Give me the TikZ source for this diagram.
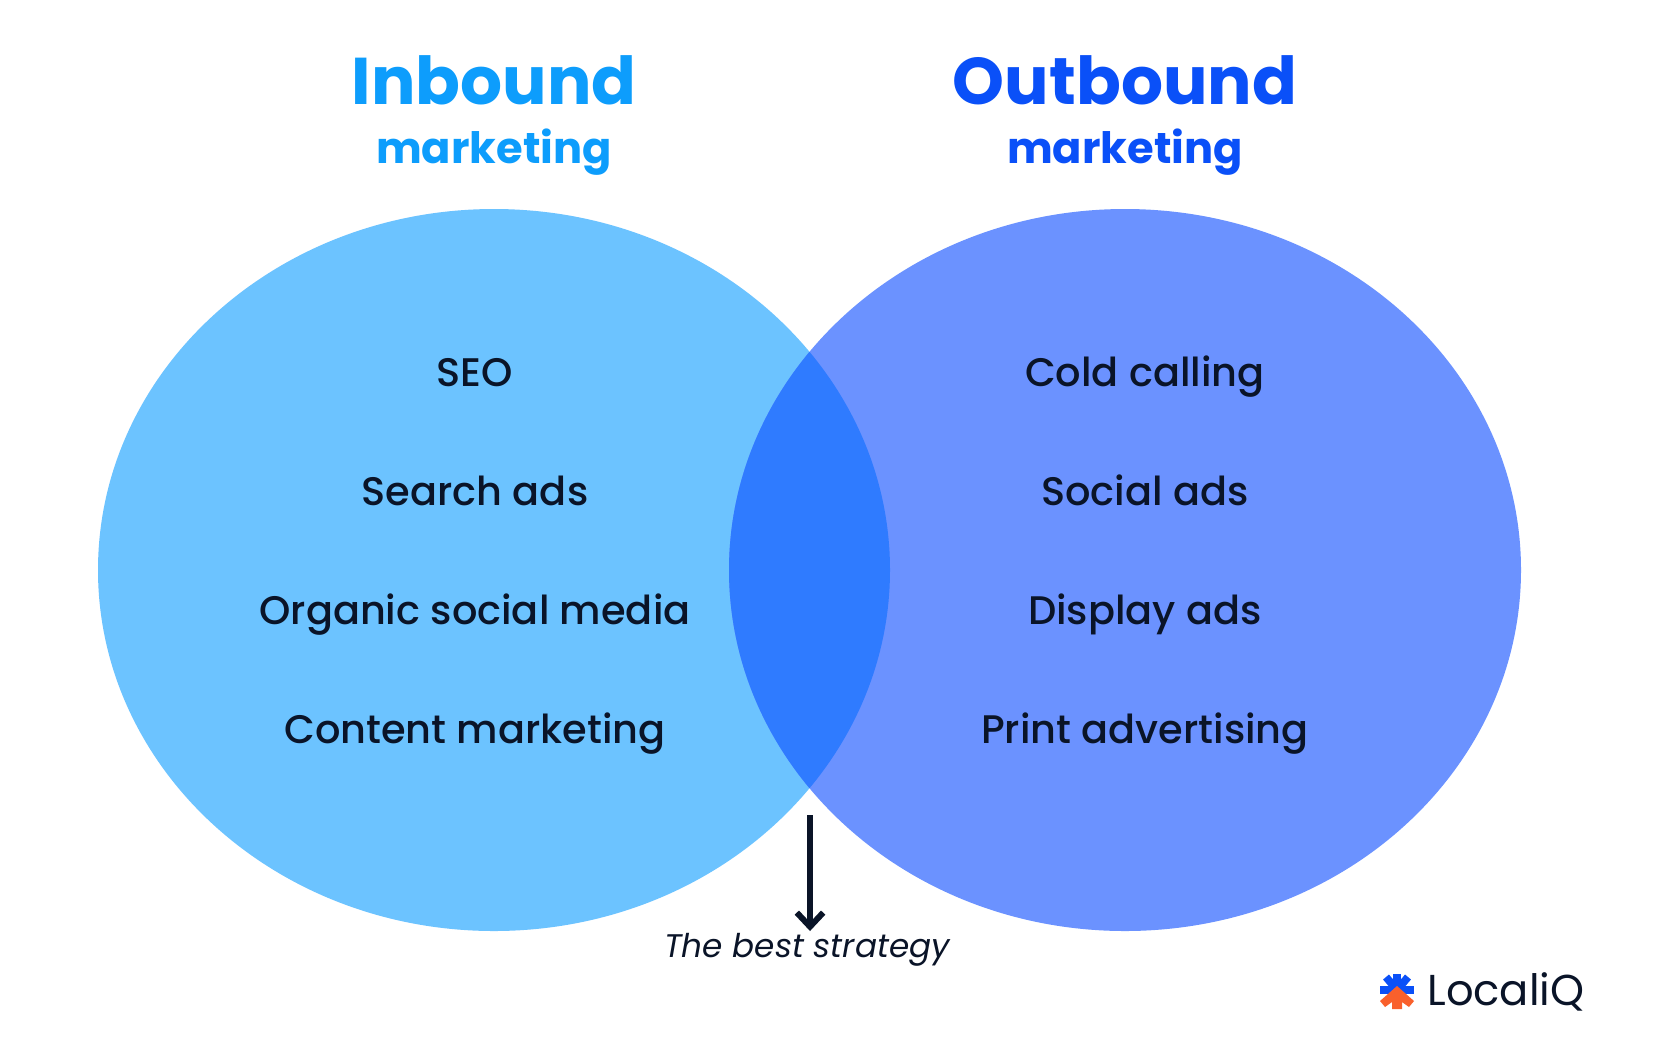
\documentclass[tikz,border=0pt]{standalone}
\usepackage{fontspec}
\setmainfont{Poppins}
\newfontfamily\headfont{Poppins}[BoldFont={Poppins Bold}]
\newfontfamily\itemfont{Poppins Medium}
\usetikzlibrary{arrows.meta}
\definecolor{inblue}{HTML}{0D9DFC}
\definecolor{outblue}{HTML}{0A50F8}
\definecolor{infill}{HTML}{6CC3FF}
\definecolor{outfill}{HTML}{6B92FF}
\definecolor{midfill}{HTML}{2F7BFF}
\definecolor{inkdark}{HTML}{0A1428}
\definecolor{logoorange}{HTML}{F9602C}
\begin{document}
\begin{tikzpicture}[x=0.02cm,y=-0.02cm,>={Straight Barb[length=8pt,width=15pt,line width=3.4pt]},
  node distance=2.38cm,inner sep=0pt,text=inkdark,
  item node/.style={font=\itemfont\fontsize{22.7}{26}\selectfont,text height=20pt,text depth=4pt},
  big node/.style={font=\headfont\bfseries\fontsize{37.6}{42}\selectfont},
  small node/.style={font=\headfont\bfseries\fontsize{24.6}{28}\selectfont},
  logo arm/.style={line width=4.4pt,draw=outblue}]
  \useasboundingbox (0,0) rectangle (1666,1036);
  \fill[white] (0,0) rectangle (1666,1036);

  % the two circles
  \fill[infill]  (494,570) ellipse [x radius=396,y radius=361];
  \fill[outfill] (1125,570) ellipse [x radius=396,y radius=361];
  \begin{scope}
    \clip (494,570) ellipse [x radius=396,y radius=361];
    \fill[midfill] (1125,570) ellipse [x radius=396,y radius=361];
  \end{scope}

  % headings
  \node[big node,text=inblue,anchor=base]    (inbound)  at (494,104)  {Inbound};
  \node[small node,text=inblue,anchor=base]  (inmark)   at (494,163)  {marketing};
  \node[big node,text=outblue,anchor=base]   (outbound) at (1125,104) {Outbound};
  \node[small node,text=outblue,anchor=base] (outmark)  at (1125,163) {marketing};

  % left column
  \node[item node] (seo)     at (475,372) {SEO};
  \node[item node] (search)  [below of=seo] {Search ads};
  \node[item node] (organic) [below of=search] {Organic social media};
  \node[item node] (content) [below of=organic] {Content marketing};

  % right column
  \node[item node] (cold)    at (1145,372) {Cold calling};
  \node[item node] (social)  [below of=cold] {Social ads};
  \node[item node] (display) [below of=social] {Display ads};
  \node[item node] (print)   [below of=display] {Print advertising};

  % arrow
  \node[font=\itshape\fontsize{18.6}{20}\selectfont] (best) at (807,950) {The best strategy};
  \coordinate (arrowtop) at (810,815);
  \coordinate (arrowend) at (810,931);
  \draw[->,line width=3.6pt,draw=inkdark] (arrowtop) -- (arrowend);

  % logo
  \coordinate (logoc) at (1397,990);
  \draw[logo arm] (logoc) -- ++(0,-16);
  \draw[logo arm] (logoc) -- ++(-11,-13);
  \draw[logo arm] (logoc) -- ++(11,-13);
  \draw[logo arm] (logoc) -- ++(-17,0);
  \draw[logo arm] (logoc) -- ++(17,0);
  \fill[logoorange] (1397,986) -- (1414,1001) -- (1409,1007) -- (1402,1002) -- (1402,1009)
    -- (1392,1009) -- (1392,1002) -- (1385,1007) -- (1380,1001) -- cycle;
  \node[font=\fontsize{24.6}{28}\selectfont,anchor=west] (logo) at (1427,992) {LocaliQ};
\end{tikzpicture}
\end{document}
